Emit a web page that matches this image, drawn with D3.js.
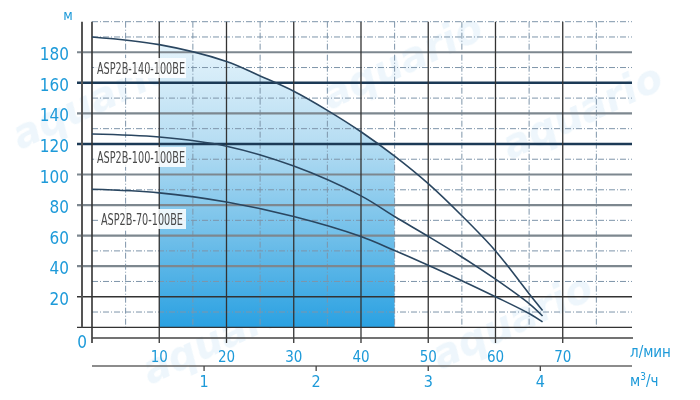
<!DOCTYPE html>
<html>
<head>
<meta charset="utf-8">
<script src="https://cdn.jsdelivr.net/npm/d3@7"></script>
<style>
    body { margin: 0; background: #fff; }
    text { font-family: "Liberation Sans Narrow", "DejaVu Sans Condensed", sans-serif; }
</style>
</head>
<body>
<svg id="chart" width="700" height="400"></svg>
<script>
// pump curves: flow in l/min, head in m
const curveNames = ["ASP2B-140-100BE", "ASP2B-100-100BE", "ASP2B-70-100BE"];
const flow140 = [0, 10, 20, 25, 30, 35, 40, 45, 50, 55, 60, 65, 67];
const head140 = [190, 185, 174, 164.5, 154.5, 142, 128, 112, 94, 73, 50, 22, 11];
const flow100 = [0, 10, 20, 30, 40, 45, 50, 55, 60, 65, 67];
const head100 = [126.5, 124.5, 118.5, 105.5, 86, 72.5, 59.5, 46, 31.5, 15.5, 7.4];
const flow70 = [0, 10, 20, 30, 40, 45, 50, 55, 60, 65, 67];
const head70 = [90.3, 88, 82, 72.5, 59.4, 50.2, 40.6, 30.5, 20, 9, 3.5];

const headTicks = [0, 20, 40, 60, 80, 100, 120, 140, 160, 180];
const headMinor = [10, 30, 50, 70, 90, 110, 130, 150, 170, 190, 200];
const flowTicks = [10, 20, 30, 40, 50, 60, 70];
const flowMinor = [5, 15, 25, 35, 45, 55, 65, 75];
const cubicTicks = [1, 2, 3, 4];
const workRange = [10, 45];

let svg = d3.select("#chart");
let x = d3.scaleLinear().domain([0, 80.3]).range([92, 632]);
let y = d3.scaleLinear().domain([-7, 200]).range([338, 21.7]);
// m3/h on the second axis, same pixels as l/min
let xm = d3.scaleLinear().domain([0, 80.3 * 60 / 1000]).range([92, 632]);

let series = curveNames.map((name, i) => {
    let fl = [flow140, flow100, flow70][i],
        hd = [head140, head100, head70][i];
    return { name: name, points: fl.map((f, j) => [f, hd[j]]) };
});

// faint watermark, kept inside the picture
let wm = svg.append("g").style("font-weight", "bold").style("font-style", "italic")
    .style("fill", "#dcedf8").style("opacity", 0.5).style("font-size", "40px");
[[20, 150], [330, 110], [510, 160], [150, 385], [440, 370]].forEach(p => {
    wm.append("text").attr("transform", `translate(${p[0]},${p[1]}) rotate(-25)`)
        .style("font-family", "DejaVu Sans").text("aquario");
});

// gradient fill of the working range
let defs = svg.append("defs");
let grad = defs.append("linearGradient").attr("id", "fillGrad")
    .attr("gradientUnits", "userSpaceOnUse")
    .attr("x1", 0).attr("x2", 0).attr("y1", y(190)).attr("y2", y(0));
[["0", "#e8f5fc"], ["0.35", "#b8def3"], ["0.7", "#6ebee9"], ["1", "#2aa1e2"]].forEach(s => {
    grad.append("stop").attr("offset", s[0]).attr("stop-color", s[1]);
});
defs.append("clipPath").attr("id", "workClip").append("rect")
    .attr("x", x(workRange[0])).attr("width", x(workRange[1]) - x(workRange[0]))
    .attr("y", 0).attr("height", y(0));

let curve = d3.curveCatmullRom.alpha(0.5);
let area = d3.area().x(d => x(d[0])).y0(y(0)).y1(d => y(d[1])).curve(curve);
svg.append("path").datum(series[0].points)
    .attr("d", area).attr("fill", "url(#fillGrad)").attr("clip-path", "url(#workClip)");

// minor grid
let minor = svg.append("g").attr("fill", "none").attr("stroke", "#7e95aa")
    .attr("stroke-width", 1).attr("stroke-dasharray", "6,2,1,2");
minor.selectAll(".mh").data(headMinor).enter().append("line")
    .attr("x1", x(0)).attr("x2", 632).attr("y1", d => y(d)).attr("y2", d => y(d));
minor.selectAll(".mv").data(flowMinor).enter().append("line")
    .attr("x1", d => x(d)).attr("x2", d => x(d)).attr("y1", y(200)).attr("y2", y(0));

// major horizontal lines
let majorColor = v => (v === 160 || v === 120) ? "#1c3a56" : (v <= 20 ? "#333" : "#7d878f");
let majorWidth = v => (v === 160 || v === 120) ? 2.6 : (v <= 20 ? 1.3 : 2.2);
svg.append("g").selectAll("line").data(headTicks).enter().append("line")
    .attr("x1", 77).attr("x2", 632).attr("y1", d => y(d)).attr("y2", d => y(d))
    .attr("stroke", majorColor).attr("stroke-width", majorWidth);

// major vertical lines
svg.append("g").selectAll("line").data(flowTicks).enter().append("line")
    .attr("x1", d => x(d)).attr("x2", d => x(d)).attr("y1", y(200)).attr("y2", y(-7) + 5)
    .attr("stroke", "#333").attr("stroke-width", 1.3);
svg.append("line").attr("x1", x(0)).attr("x2", x(0)).attr("y1", y(200)).attr("y2", y(-7) + 5)
    .attr("stroke", "#333").attr("stroke-width", 1.6);
svg.append("line").attr("x1", x(0)).attr("x2", 633).attr("y1", y(-7)).attr("y2", y(-7))
    .attr("stroke", "#444").attr("stroke-width", 1.6);
// head axis line
svg.append("line").attr("x1", 82).attr("x2", 82).attr("y1", y(200)).attr("y2", y(0))
    .attr("stroke", "#555").attr("stroke-width", 2);

// curves
let line = d3.line().x(d => x(d[0])).y(d => y(d[1])).curve(curve);
svg.append("g").selectAll("path").data(series).enter().append("path")
    .attr("d", d => line(d.points)).attr("fill", "none")
    .attr("stroke", "#2a4660").attr("stroke-width", 1.6);

// curve labels
let labelY = [68, 157, 219];
let labelX = [97, 97, 101];
let lab = svg.append("g").selectAll("g").data(series).enter().append("g")
    .attr("transform", (d, i) => `translate(${labelX[i]},${labelY[i]})`);
lab.append("rect").attr("x", -3).attr("y", -10).attr("width", (d, i) => i === 2 ? 88 : 92)
    .attr("height", 20).attr("fill", "#fff").attr("opacity", 0.85);
lab.append("text").attr("y", 5.5).attr("textLength", (d, i) => i === 2 ? 82 : 88)
    .attr("lengthAdjust", "spacingAndGlyphs")
    .style("font-size", "15px").style("fill", "#4a4a4a").text(d => d.name);

// axis labels
let blue = "#1d9ad9";
let tx = svg.append("g").style("fill", blue);
tx.selectAll(".yl").data(headTicks.filter(v => v > 0)).enter().append("text")
    .attr("x", 69).attr("y", d => y(d) + 8).attr("text-anchor", "end")
    .style("font-size", "17px").text(d => d);
tx.append("text").attr("x", 82).attr("y", 348).attr("text-anchor", "middle")
    .style("font-size", "17px").text("0");
tx.append("text").attr("x", 68).attr("y", 20).attr("text-anchor", "middle")
    .style("font-size", "14px").text("м");

tx.selectAll(".xl").data(flowTicks).enter().append("text")
    .attr("x", d => x(d)).attr("y", 362).attr("text-anchor", "middle")
    .style("font-size", "15px").text(d => d);
tx.append("text").attr("x", 630).attr("y", 357).style("font-size", "15px").text("л/мин");

// m3/h axis
svg.append("line").attr("x1", x(0)).attr("x2", 632).attr("y1", 366).attr("y2", 366)
    .attr("stroke", "#666").attr("stroke-width", 1.5);
svg.append("g").selectAll("line").data(cubicTicks).enter().append("line")
    .attr("x1", d => xm(d)).attr("x2", d => xm(d)).attr("y1", 366).attr("y2", 371)
    .attr("stroke", "#444").attr("stroke-width", 1.3);
tx.selectAll(".ml").data(cubicTicks).enter().append("text")
    .attr("x", d => xm(d)).attr("y", 387).attr("text-anchor", "middle")
    .style("font-size", "16px").text(d => d);
let unit = tx.append("text").attr("x", 630).attr("y", 386).style("font-size", "15px");
unit.append("tspan").text("м");
unit.append("tspan").attr("dy", -6).style("font-size", "10px").text("3");
unit.append("tspan").attr("dy", 6).text("/ч");
</script>
</body>
</html>
